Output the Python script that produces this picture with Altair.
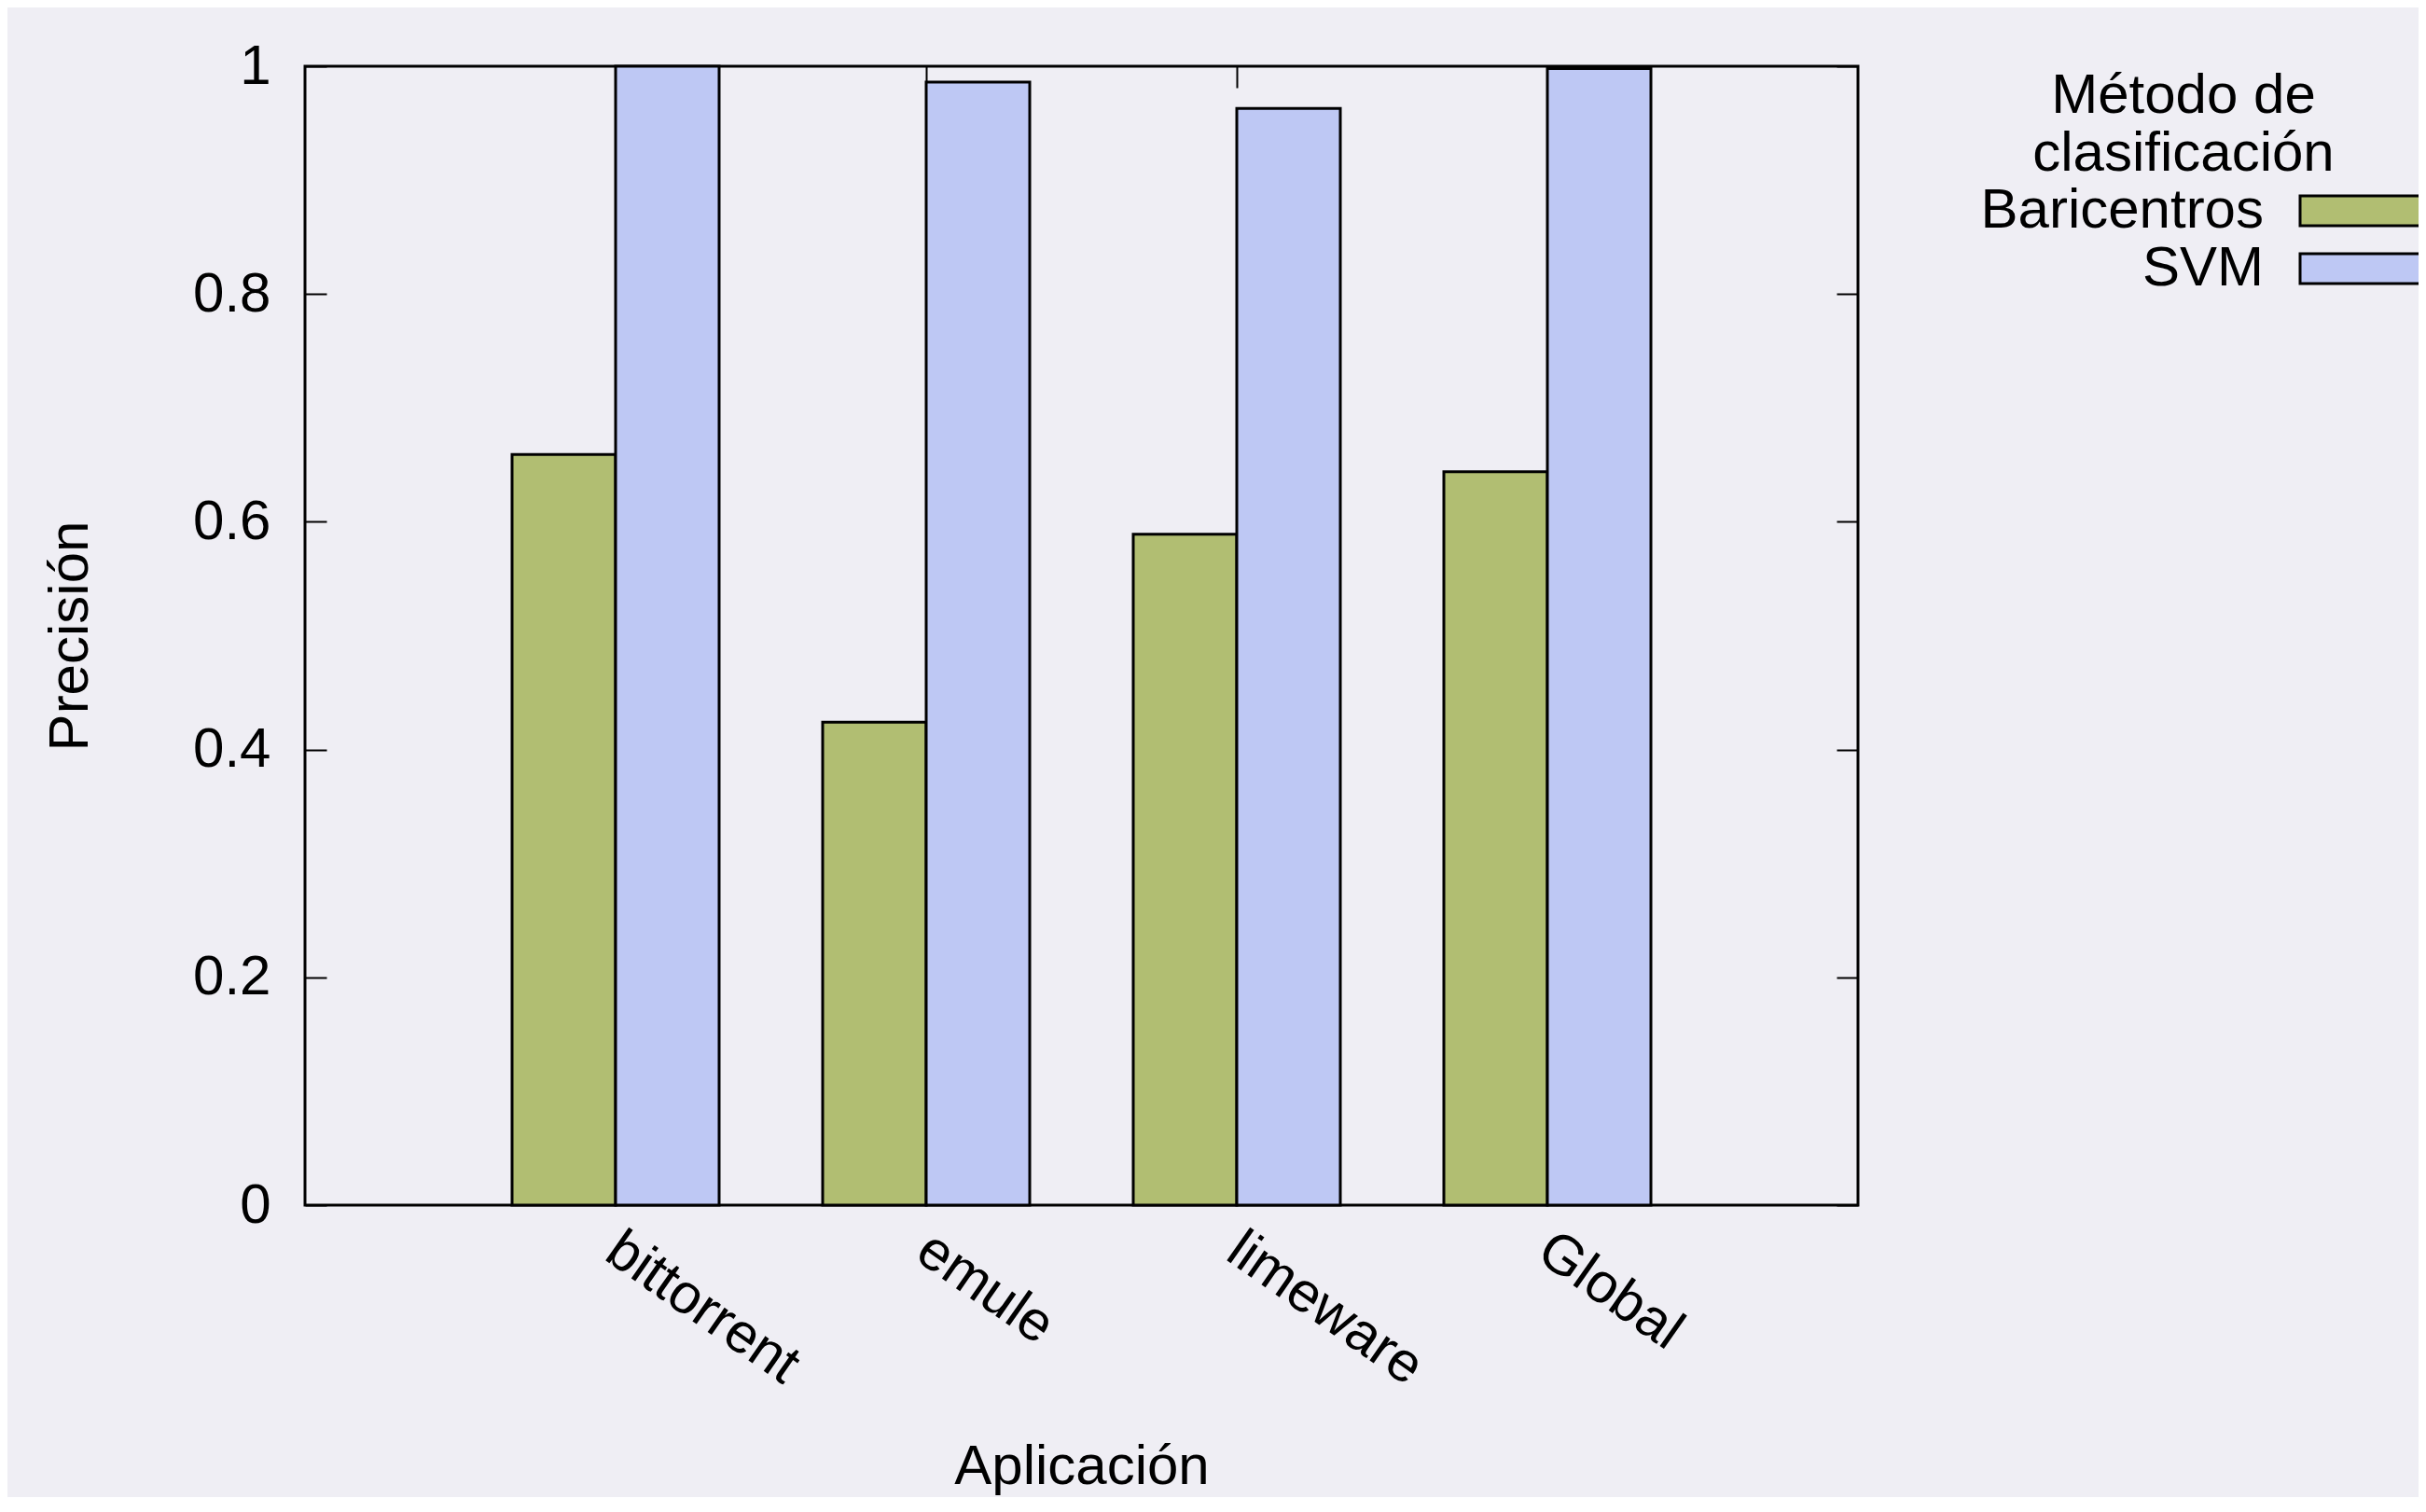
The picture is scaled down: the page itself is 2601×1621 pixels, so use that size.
import altair as alt
import pandas as pd

# ---- data ----
apps = ["bittorrent", "emule", "limeware", "Global"]
methods = ["Baricentros", "SVM"]
baricentros = [0.659, 0.424, 0.589, 0.644]
svm = [1.0, 0.986, 0.963, 0.998]
y_ticks = [0, 0.2, 0.4, 0.6, 0.8, 1]
colors = ["#b1be72", "#bec8f4"]

rows = []
for i, a in enumerate(apps):
    rows.append({"Aplicación": a, "Método": methods[0], "Precisión": baricentros[i]})
    rows.append({"Aplicación": a, "Método": methods[1], "Precisión": svm[i]})
df = pd.DataFrame(rows)

FONT = "Liberation Sans"
FS = 60
BG = "#efeef4"
W, H = 1665, 1221
TICK = 23

xscale = alt.Scale(domain=apps, paddingInner=1 / 3, paddingOuter=2 / 3)
xoffscale = alt.Scale(domain=methods, paddingInner=0, paddingOuter=0)
yscale = alt.Scale(domain=[0, 1], nice=False)

legend = alt.Legend(
    orient="none", legendX=1743, legendY=3,
    title=["Método de", "clasificación"],
    titleFont=FONT, titleFontSize=FS, titleFontWeight="normal", titleColor="black",
    titleAnchor="middle", titleAlign="center", titleLineHeight=62, titlePadding=0,
    titleLimit=0,
    labelFont=FONT, labelFontSize=FS, labelColor="black", labelLimit=0,
    labelAlign="right", labelOffset={"expr": "-139"},
    symbolType="M-2.456,-0.561H2.456V0.561H-2.456Z", symbolSize=3249,
    symbolStrokeColor="black", symbolStrokeWidth=3, symbolOffset=436,
    symbolOpacity=1, rowPadding=2, padding=0,
)

bars = alt.Chart(df).mark_bar(stroke="black", strokeWidth=3).encode(
    x=alt.X("Aplicación:N", sort=apps, scale=xscale,
            axis=alt.Axis(orient="bottom", title="Aplicación", ticks=False, domain=False,
                          labelAngle=35, labelAlign="left", labelBaseline="top",
                          labelPadding=18, labelOffset=13, labelLimit=0,
                          labelFont=FONT, labelFontSize=FS, labelColor="black",
                          titleFont=FONT, titleFontSize=FS, titleFontWeight="normal",
                          titleColor="black", titleX=W / 2, titleY=298,
                          titleBaseline="alphabetic", titleAlign="center")),
    xOffset=alt.XOffset("Método:N", sort=methods, scale=xoffscale),
    y=alt.Y("Precisión:Q", scale=yscale,
            axis=alt.Axis(orient="left", values=y_ticks, format="~g", grid=False,
                          domain=False, offset=-TICK, tickSize=TICK, tickWidth=2,
                          tickColor="black", labelPadding=37, labelFont=FONT,
                          labelFontSize=FS, labelColor="black",
                          title="Precisión", titleFont=FONT, titleFontSize=FS,
                          titleFontWeight="normal", titleColor="black",
                          titleAngle=270, titleX=-275, titleY=H / 2,
                          titleAlign="center", titleBaseline="middle")),
    color=alt.Color("Método:N", scale=alt.Scale(domain=methods, range=colors),
                    legend=legend),
)

mirror = alt.Chart(df).mark_bar(opacity=0).encode(
    x=alt.X("Aplicación:N", sort=apps, scale=xscale,
            axis=alt.Axis(orient="top", labels=False, title=None, domain=False,
                          offset=-TICK, tickSize=TICK, tickWidth=2, tickColor="black")),
    xOffset=alt.XOffset("Método:N", sort=methods, scale=xoffscale),
    y=alt.Y("Precisión:Q", scale=yscale,
            axis=alt.Axis(orient="right", values=y_ticks, labels=False, title=None,
                          grid=False, domain=False, offset=-TICK, tickSize=TICK,
                          tickWidth=2, tickColor="black")),
)

chart = alt.layer(mirror, bars).resolve_axis(
    x="independent", y="independent"
).properties(
    width=W, height=H,
    autosize=alt.AutoSizeParams(type="none"),
    padding={"left": 319, "top": 63, "right": 601, "bottom": 313},
    background=BG,
).configure_view(stroke="black", strokeWidth=3)

chart.save("out.html", embed_options={"renderer": "svg", "actions": False})
